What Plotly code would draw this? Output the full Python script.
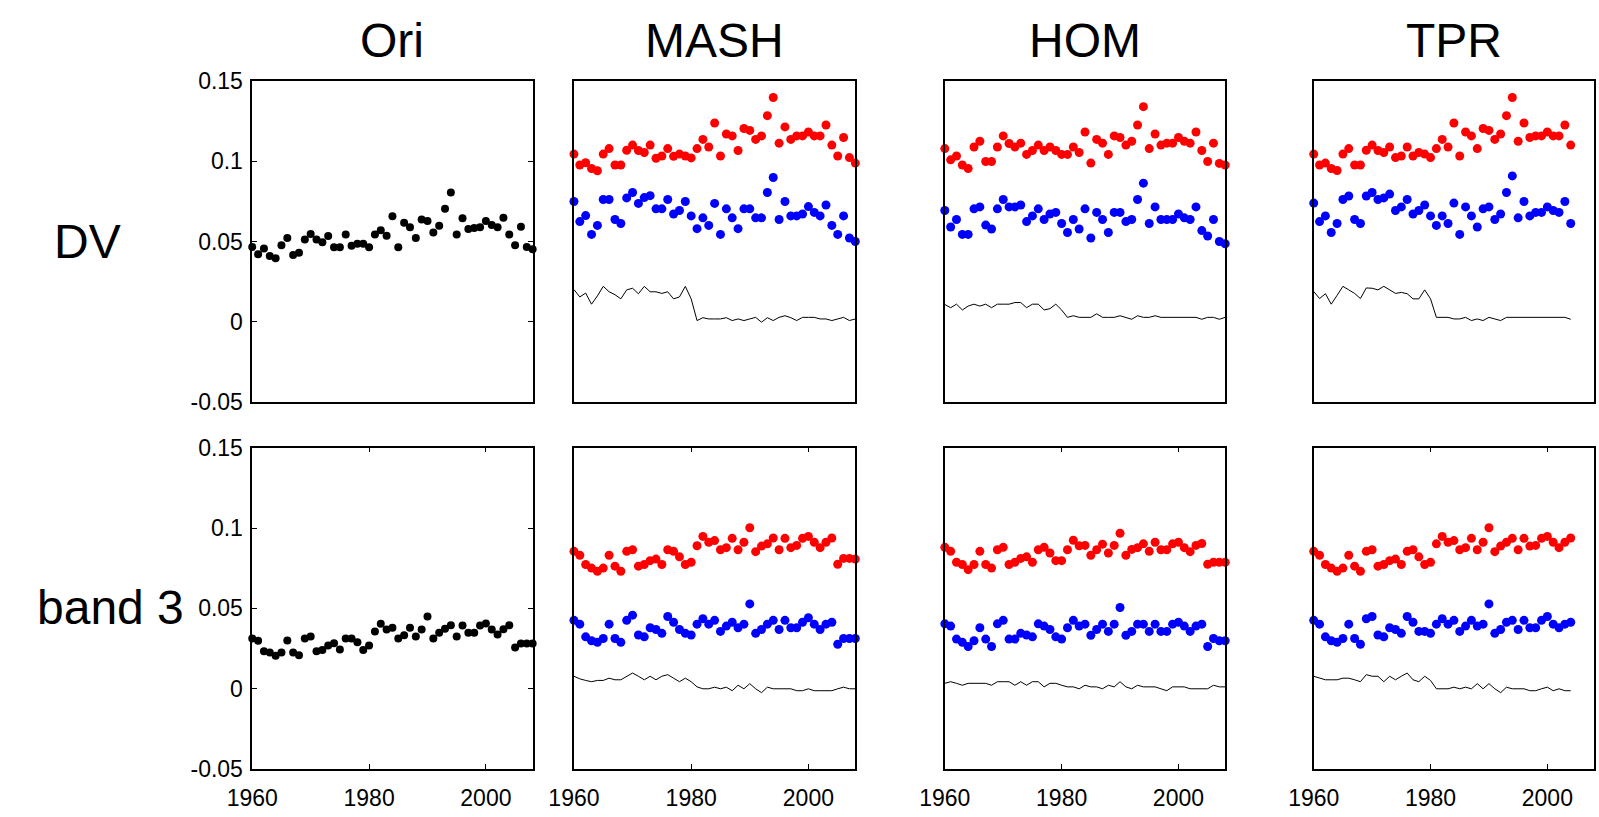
import plotly.graph_objects as go

# ---------------------------------------------------------------- data
years = list(range(1960, 2009))
years_tpr = list(range(1960, 2005))

columns = ["Ori", "MASH", "HOM", "TPR"]
rows = ["DV", "band 3"]
y_tickvals = [-0.05, 0, 0.05, 0.1, 0.15]
y_ticktext = ["-0.05", "0", "0.05", "0.1", "0.15"]
x_tickvals = [1960, 1980, 2000]
x_ticktext = ["1960", "1980", "2000"]

# DV row
ori_dv = [0.0466, 0.0420, 0.0456, 0.0410, 0.0396, 0.0476, 0.0522, 0.0416, 0.0430, 0.0512,
          0.0546, 0.0512, 0.0496, 0.0534, 0.0464, 0.0464, 0.0544, 0.0474, 0.0486, 0.0486,
          0.0464, 0.0544, 0.0570, 0.0536, 0.0657, 0.0464, 0.0616, 0.0588, 0.0522, 0.0637,
          0.0627, 0.0556, 0.0598, 0.0703, 0.0805, 0.0544, 0.0645, 0.0578, 0.0584, 0.0588,
          0.0627, 0.0602, 0.0588, 0.0647, 0.0544, 0.0476, 0.0592, 0.0466, 0.0452]

mash_dv_red = [0.1044, 0.0976, 0.0990, 0.0954, 0.0940, 0.1044, 0.1078, 0.0976, 0.0976, 0.1068,
               0.1100, 0.1066, 0.1054, 0.1100, 0.1018, 0.1032, 0.1078, 0.1030, 0.1044, 0.1032,
               0.1020, 0.1078, 0.1135, 0.1088, 0.1237, 0.1032, 0.1169, 0.1157, 0.1066, 0.1203,
               0.1191, 0.1135, 0.1157, 0.1283, 0.1396, 0.1112, 0.1213, 0.1135, 0.1157, 0.1157,
               0.1181, 0.1157, 0.1157, 0.1225, 0.1100, 0.1032, 0.1147, 0.1022, 0.0988]
mash_dv_blue = [0.0749, 0.0624, 0.0661, 0.0544, 0.0600, 0.0761, 0.0761, 0.0637, 0.0612, 0.0771,
                0.0805, 0.0737, 0.0773, 0.0785, 0.0703, 0.0703, 0.0761, 0.0671, 0.0693, 0.0749,
                0.0659, 0.0580, 0.0647, 0.0600, 0.0737, 0.0544, 0.0703, 0.0647, 0.0580, 0.0703,
                0.0703, 0.0647, 0.0647, 0.0805, 0.0898, 0.0637, 0.0749, 0.0659, 0.0659, 0.0671,
                0.0717, 0.0681, 0.0659, 0.0727, 0.0600, 0.0544, 0.0659, 0.0522, 0.0500]
mash_dv_line = [0.0201, 0.0155, 0.0179, 0.0110, 0.0161, 0.0221, 0.0187, 0.0169, 0.0143, 0.0199,
                0.0209, 0.0175, 0.0221, 0.0187, 0.0187, 0.0177, 0.0187, 0.0143, 0.0155, 0.0221,
                0.0143, 0.0008, 0.0026, 0.0018, 0.0018, 0.0018, 0.0026, 0.0008, 0.0018, 0.0008,
                0.0018, 0.0028, -0.0002, 0.0026, 0.0008, 0.0028, 0.0038, 0.0026, 0.0008, 0.0028,
                0.0028, 0.0028, 0.0018, 0.0018, 0.0008, 0.0018, 0.0028, 0.0008, 0.0018]

hom_dv_red = [0.1078, 0.1008, 0.1032, 0.0976, 0.0954, 0.1088, 0.1124, 0.0998, 0.0998, 0.1088,
              0.1157, 0.1110, 0.1088, 0.1112, 0.1042, 0.1066, 0.1100, 0.1066, 0.1088, 0.1066,
              0.1042, 0.1042, 0.1088, 0.1054, 0.1181, 0.0988, 0.1135, 0.1112, 0.1042, 0.1157,
              0.1147, 0.1100, 0.1124, 0.1225, 0.1339, 0.1078, 0.1169, 0.1100, 0.1112, 0.1112,
              0.1147, 0.1124, 0.1112, 0.1181, 0.1066, 0.0998, 0.1112, 0.0986, 0.0976]
hom_dv_blue = [0.0693, 0.0590, 0.0637, 0.0544, 0.0544, 0.0703, 0.0715, 0.0602, 0.0578, 0.0703,
               0.0761, 0.0715, 0.0715, 0.0727, 0.0624, 0.0659, 0.0703, 0.0637, 0.0671, 0.0681,
               0.0612, 0.0556, 0.0637, 0.0578, 0.0703, 0.0522, 0.0681, 0.0637, 0.0556, 0.0681,
               0.0681, 0.0624, 0.0637, 0.0761, 0.0863, 0.0612, 0.0715, 0.0637, 0.0637, 0.0637,
               0.0671, 0.0647, 0.0637, 0.0715, 0.0568, 0.0534, 0.0637, 0.0500, 0.0486]
hom_dv_line = [0.0108, 0.0088, 0.0110, 0.0074, 0.0098, 0.0110, 0.0098, 0.0110, 0.0088, 0.0110,
               0.0110, 0.0110, 0.0120, 0.0120, 0.0088, 0.0110, 0.0110, 0.0074, 0.0082, 0.0110,
               0.0074, 0.0028, 0.0038, 0.0028, 0.0028, 0.0028, 0.0050, 0.0028, 0.0028, 0.0028,
               0.0038, 0.0028, 0.0016, 0.0038, 0.0028, 0.0028, 0.0038, 0.0028, 0.0028, 0.0028,
               0.0028, 0.0028, 0.0028, 0.0028, 0.0016, 0.0028, 0.0028, 0.0016, 0.0028]

tpr_dv_red = [0.1044, 0.0976, 0.0988, 0.0954, 0.0942, 0.1044, 0.1078, 0.0976, 0.0976, 0.1068,
              0.1100, 0.1066, 0.1054, 0.1088, 0.1022, 0.1032, 0.1088, 0.1032, 0.1054, 0.1044,
              0.1022, 0.1078, 0.1135, 0.1088, 0.1237, 0.1032, 0.1181, 0.1157, 0.1078, 0.1203,
              0.1191, 0.1135, 0.1169, 0.1283, 0.1396, 0.1124, 0.1237, 0.1147, 0.1157, 0.1157,
              0.1181, 0.1157, 0.1157, 0.1225, 0.1100]
tpr_dv_blue = [0.0739, 0.0624, 0.0659, 0.0556, 0.0612, 0.0761, 0.0783, 0.0637, 0.0612, 0.0783,
               0.0805, 0.0761, 0.0771, 0.0795, 0.0693, 0.0715, 0.0761, 0.0671, 0.0693, 0.0727,
               0.0659, 0.0600, 0.0659, 0.0612, 0.0739, 0.0544, 0.0715, 0.0659, 0.0590, 0.0703,
               0.0715, 0.0637, 0.0671, 0.0805, 0.0908, 0.0647, 0.0749, 0.0659, 0.0681, 0.0681,
               0.0715, 0.0693, 0.0681, 0.0749, 0.0612]
tpr_dv_line = [0.0189, 0.0145, 0.0175, 0.0110, 0.0165, 0.0221, 0.0199, 0.0177, 0.0145, 0.0211,
               0.0209, 0.0199, 0.0221, 0.0199, 0.0177, 0.0183, 0.0175, 0.0143, 0.0143, 0.0199,
               0.0143, 0.0028, 0.0028, 0.0028, 0.0018, 0.0018, 0.0028, 0.0008, 0.0018, 0.0008,
               0.0028, 0.0018, 0.0008, 0.0028, 0.0028, 0.0028, 0.0028, 0.0028, 0.0028, 0.0028,
               0.0028, 0.0028, 0.0028, 0.0028, 0.0016]

# band 3 row
ori_b3 = [0.0313, 0.0299, 0.0233, 0.0225, 0.0205, 0.0225, 0.0301, 0.0225, 0.0209, 0.0313,
          0.0325, 0.0233, 0.0241, 0.0269, 0.0283, 0.0245, 0.0313, 0.0313, 0.0289, 0.0241,
          0.0269, 0.0357, 0.0404, 0.0369, 0.0380, 0.0313, 0.0333, 0.0380, 0.0325, 0.0369,
          0.0450, 0.0313, 0.0349, 0.0373, 0.0396, 0.0325, 0.0394, 0.0349, 0.0349, 0.0394,
          0.0406, 0.0369, 0.0337, 0.0371, 0.0396, 0.0257, 0.0281, 0.0281, 0.0281]

mash_b3_red = [0.0855, 0.0831, 0.0773, 0.0751, 0.0731, 0.0751, 0.0831, 0.0763, 0.0731, 0.0855,
               0.0865, 0.0763, 0.0773, 0.0797, 0.0807, 0.0773, 0.0865, 0.0855, 0.0821, 0.0773,
               0.0787, 0.0890, 0.0948, 0.0912, 0.0922, 0.0865, 0.0878, 0.0936, 0.0865, 0.0912,
               0.1002, 0.0853, 0.0888, 0.0902, 0.0938, 0.0865, 0.0936, 0.0878, 0.0892, 0.0936,
               0.0948, 0.0912, 0.0878, 0.0912, 0.0938, 0.0775, 0.0811, 0.0811, 0.0807]
mash_b3_blue = [0.0426, 0.0402, 0.0323, 0.0299, 0.0289, 0.0313, 0.0402, 0.0313, 0.0289, 0.0426,
                0.0458, 0.0335, 0.0323, 0.0380, 0.0369, 0.0345, 0.0450, 0.0414, 0.0369, 0.0345,
                0.0335, 0.0402, 0.0436, 0.0402, 0.0426, 0.0357, 0.0390, 0.0414, 0.0380, 0.0402,
                0.0528, 0.0345, 0.0369, 0.0402, 0.0426, 0.0369, 0.0426, 0.0380, 0.0380, 0.0414,
                0.0442, 0.0402, 0.0369, 0.0402, 0.0414, 0.0277, 0.0313, 0.0313, 0.0313]
mash_b3_line = [0.0078, 0.0062, 0.0052, 0.0044, 0.0052, 0.0052, 0.0066, 0.0056, 0.0056, 0.0078,
                0.0098, 0.0078, 0.0056, 0.0078, 0.0056, 0.0078, 0.0088, 0.0066, 0.0044, 0.0066,
                0.0044, 0.0012, 0.0000, 0.0000, 0.0010, 0.0000, 0.0010, -0.0012, 0.0022, 0.0000,
                0.0032, 0.0000, -0.0024, 0.0010, 0.0000, 0.0000, 0.0000, 0.0000, -0.0012, -0.0012,
                0.0000, -0.0012, -0.0012, -0.0012, -0.0012, 0.0000, 0.0010, 0.0000, 0.0000]

hom_b3_red = [0.0880, 0.0855, 0.0787, 0.0773, 0.0741, 0.0773, 0.0855, 0.0773, 0.0751, 0.0865,
              0.0880, 0.0773, 0.0787, 0.0811, 0.0821, 0.0787, 0.0865, 0.0880, 0.0845, 0.0797,
              0.0797, 0.0865, 0.0924, 0.0890, 0.0892, 0.0831, 0.0865, 0.0900, 0.0845, 0.0892,
              0.0968, 0.0831, 0.0867, 0.0878, 0.0902, 0.0855, 0.0912, 0.0865, 0.0865, 0.0902,
              0.0912, 0.0878, 0.0853, 0.0892, 0.0904, 0.0775, 0.0787, 0.0787, 0.0787]
hom_b3_blue = [0.0404, 0.0390, 0.0309, 0.0289, 0.0263, 0.0299, 0.0380, 0.0309, 0.0263, 0.0404,
               0.0426, 0.0309, 0.0309, 0.0345, 0.0335, 0.0323, 0.0404, 0.0390, 0.0369, 0.0323,
               0.0309, 0.0380, 0.0426, 0.0390, 0.0402, 0.0333, 0.0369, 0.0402, 0.0357, 0.0402,
               0.0506, 0.0333, 0.0357, 0.0402, 0.0402, 0.0357, 0.0402, 0.0357, 0.0357, 0.0402,
               0.0414, 0.0390, 0.0357, 0.0390, 0.0402, 0.0263, 0.0313, 0.0299, 0.0299]
hom_b3_line = [0.0034, 0.0044, 0.0034, 0.0022, 0.0034, 0.0034, 0.0034, 0.0034, 0.0022, 0.0044,
               0.0044, 0.0044, 0.0022, 0.0044, 0.0022, 0.0044, 0.0044, 0.0012, 0.0034, 0.0034,
               0.0022, 0.0012, 0.0012, 0.0000, 0.0022, 0.0012, 0.0012, 0.0000, 0.0022, 0.0012,
               0.0044, 0.0012, 0.0000, 0.0022, 0.0012, 0.0012, 0.0012, 0.0000, -0.0012, 0.0012,
               0.0012, 0.0012, 0.0000, 0.0000, 0.0000, 0.0000, 0.0022, 0.0012, 0.0012]

tpr_b3_red = [0.0855, 0.0831, 0.0773, 0.0751, 0.0731, 0.0751, 0.0831, 0.0763, 0.0731, 0.0855,
              0.0865, 0.0763, 0.0773, 0.0797, 0.0807, 0.0773, 0.0855, 0.0865, 0.0821, 0.0773,
              0.0787, 0.0902, 0.0948, 0.0912, 0.0922, 0.0865, 0.0878, 0.0936, 0.0865, 0.0912,
              0.1002, 0.0853, 0.0888, 0.0912, 0.0936, 0.0865, 0.0936, 0.0888, 0.0892, 0.0936,
              0.0948, 0.0912, 0.0878, 0.0912, 0.0938]
tpr_b3_blue = [0.0426, 0.0402, 0.0323, 0.0299, 0.0289, 0.0313, 0.0402, 0.0313, 0.0277, 0.0436,
               0.0450, 0.0335, 0.0323, 0.0380, 0.0369, 0.0345, 0.0450, 0.0414, 0.0357, 0.0357,
               0.0345, 0.0402, 0.0436, 0.0402, 0.0426, 0.0357, 0.0390, 0.0426, 0.0390, 0.0402,
               0.0528, 0.0345, 0.0369, 0.0414, 0.0426, 0.0369, 0.0426, 0.0380, 0.0380, 0.0426,
               0.0450, 0.0402, 0.0380, 0.0402, 0.0414]
tpr_b3_line = [0.0078, 0.0066, 0.0056, 0.0056, 0.0056, 0.0066, 0.0066, 0.0056, 0.0044, 0.0088,
               0.0078, 0.0078, 0.0044, 0.0078, 0.0056, 0.0078, 0.0098, 0.0056, 0.0044, 0.0078,
               0.0052, 0.0000, 0.0000, 0.0000, 0.0010, 0.0000, 0.0010, 0.0000, 0.0032, 0.0000,
               0.0032, 0.0000, -0.0024, 0.0010, 0.0000, 0.0000, 0.0000, -0.0012, -0.0012, 0.0000,
               0.0010, -0.0012, 0.0000, -0.0012, -0.0012]

# ---------------------------------------------------------------- layout geometry
W, H = 1599, 817
col_px = [(230, 515), (557, 843), (934, 1219), (1309, 1594)]
row_px = [(70, 402), (449, 781)]  # top, bottom in pixels from the top edge

FONT = "Liberation Sans, Arial, sans-serif"
TICK_SIZE = 23
TITLE_SIZE = 48

fig = go.Figure()


def add_dots(idx, x, y, color, size):
    fig.add_trace(go.Scatter(
        x=x, y=y, mode="markers", cliponaxis=False,
        marker=dict(color=color, size=size, line=dict(width=0)),
        xaxis=f"x{idx}", yaxis=f"y{idx}", showlegend=False, hoverinfo="skip"))


def add_line(idx, x, y):
    fig.add_trace(go.Scatter(
        x=x, y=y, mode="lines", cliponaxis=False,
        line=dict(color="black", width=1),
        xaxis=f"x{idx}", yaxis=f"y{idx}", showlegend=False, hoverinfo="skip"))


panels = {
    1: dict(black=ori_dv, x=years),
    2: dict(red=mash_dv_red, blue=mash_dv_blue, line=mash_dv_line, x=years),
    3: dict(red=hom_dv_red, blue=hom_dv_blue, line=hom_dv_line, x=years),
    4: dict(red=tpr_dv_red, blue=tpr_dv_blue, line=tpr_dv_line, x=years_tpr),
    5: dict(black=ori_b3, x=years),
    6: dict(red=mash_b3_red, blue=mash_b3_blue, line=mash_b3_line, x=years),
    7: dict(red=hom_b3_red, blue=hom_b3_blue, line=hom_b3_line, x=years),
    8: dict(red=tpr_b3_red, blue=tpr_b3_blue, line=tpr_b3_line, x=years_tpr),
}

for idx, p in panels.items():
    if "black" in p:
        add_dots(idx, p["x"], p["black"], "black", 8)
    else:
        add_line(idx, p["x"], p["line"])
        add_dots(idx, p["x"], p["blue"], "#0000FF", 9)
        add_dots(idx, p["x"], p["red"], "#FF0000", 9)

layout = dict(
    width=W, height=H, autosize=False,
    margin=dict(l=0, r=0, t=0, b=0),
    paper_bgcolor="white", plot_bgcolor="white",
    font=dict(family=FONT, color="black", size=TICK_SIZE),
    showlegend=False,
)

annotations = []
for r in range(2):
    for c in range(4):
        idx = r * 4 + c + 1
        x0, x1 = col_px[c]
        y0, y1 = row_px[r]
        bottom = r == 1
        first = c == 0
        layout[f"xaxis{idx}"] = dict(
            domain=[x0 / W, x1 / W], range=[1960, 2008], anchor=f"y{idx}",
            showline=True, linecolor="black", linewidth=1.5,
            mirror="ticks" if bottom else True,
            showgrid=False, zeroline=False,
            tickvals=x_tickvals, ticktext=x_ticktext,
            ticks="inside" if bottom else "", ticklen=5, tickcolor="black",
            showticklabels=bottom, ticklabelstandoff=8,
            tickfont=dict(size=TICK_SIZE, family=FONT, color="black"),
        )
        layout[f"yaxis{idx}"] = dict(
            domain=[1 - y1 / H, 1 - y0 / H], range=[-0.05, 0.15], anchor=f"x{idx}",
            showline=True, linecolor="black", linewidth=1.5,
            mirror="ticks" if first else True,
            showgrid=False, zeroline=False,
            tickvals=y_tickvals, ticktext=y_ticktext,
            ticks="inside" if first else "", ticklen=5, tickcolor="black",
            showticklabels=first, ticklabelstandoff=3,
            tickfont=dict(size=TICK_SIZE, family=FONT, color="black"),
        )

# column titles
for c, name in enumerate(columns):
    x0, x1 = col_px[c]
    annotations.append(dict(
        text=name, x=(x0 + x1) / 2 / W, y=1 - 28 / H, xref="paper", yref="paper",
        xanchor="center", yanchor="middle", showarrow=False,
        font=dict(size=TITLE_SIZE, family=FONT, color="black")))

# row labels
for name, cx, cy in [(rows[0], 63, 236), (rows[1], 86, 614)]:
    annotations.append(dict(
        text=name, x=cx / W, y=1 - cy / H, xref="paper", yref="paper",
        xanchor="center", yanchor="middle", showarrow=False,
        font=dict(size=TITLE_SIZE, family=FONT, color="black")))

layout["annotations"] = annotations
fig.update_layout(**layout)

# drop the browser's default 8px body margin so the figure fills the page exactly
fig.write_html(
    "out.html",
    post_script="document.documentElement.style.margin='0';"
                "document.body.style.margin='0';"
                "document.body.style.overflow='hidden';",
)
